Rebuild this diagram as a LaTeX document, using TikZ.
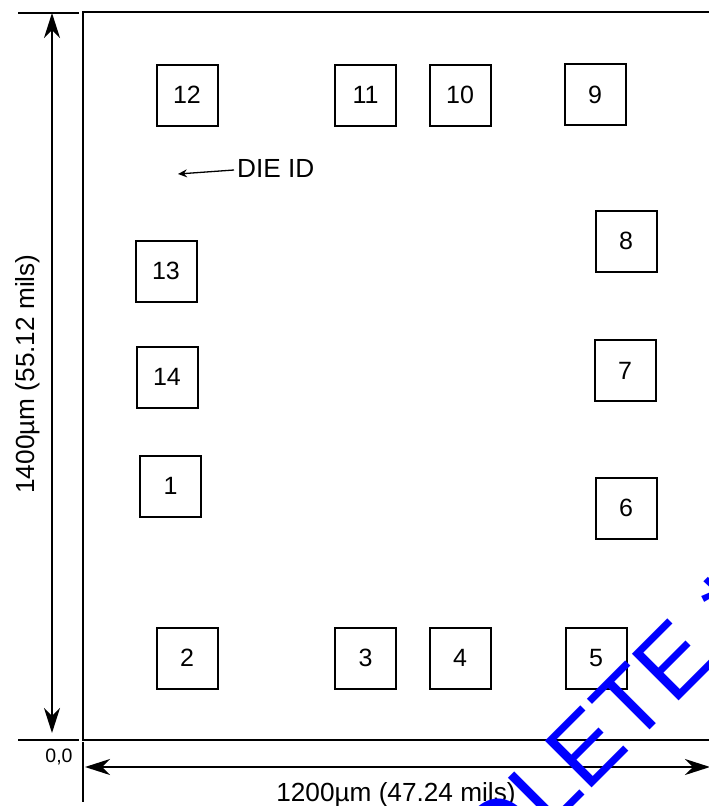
\documentclass[tikz,border=0pt]{standalone}
\usepackage{fontspec}
\setmainfont{Liberation Sans}
\usetikzlibrary{arrows.meta}
\tikzset{
  x=1pt,y=-1pt,
  pad/.style={draw=black,line width=2pt,minimum size=61pt,inner sep=0pt,font=\fontsize{25}{25}\selectfont},
  frameline/.style={line width=2pt,black},
  dimline/.style={line width=1.7pt,black,{Stealth[length=25pt,width=16pt,inset=8pt]}-{Stealth[length=25pt,width=16pt,inset=8pt]}},
  lab/.style={inner sep=0pt,font=\fontsize{26.2}{26}\selectfont},
  small/.style={inner sep=0pt,font=\fontsize{19.5}{20}\selectfont},
  wm/.style={inner sep=0pt,anchor=base west,rotate=45,text=blue,font=\fontsize{96}{96}\selectfont}
}
\begin{document}
\begin{tikzpicture}
\useasboundingbox (0,0) rectangle (709,806);
% frame
\coordinate (tl) at (82.5,12);
\coordinate (tr) at (709,12);
\coordinate (bl) at (82.5,739.5);
\coordinate (br) at (709,739.5);
\coordinate (lowtop) at (82.5,742);
\coordinate (lowbot) at (82.5,802);
\draw[frameline] (tr) -- (tl) -- (bl) -- (br);
\draw[frameline] (lowtop) -- (lowbot);
% extension ticks
\coordinate (t1) at (18,12.5);
\coordinate (t2) at (78.5,12.5);
\coordinate (b1) at (18,739.5);
\coordinate (b2) at (79,739.5);
\draw[frameline] (t1) -- (t2);
\draw[frameline] (b1) -- (b2);
% dimensions
\coordinate (vt) at (52,13);
\coordinate (vb) at (52,733);
\coordinate (hl) at (85,767);
\coordinate (hr) at (710,767);
\draw[dimline] (vt) -- (vb);
\draw[dimline] (hl) -- (hr);
\node[lab,rotate=90] (vlab) at (28,374) {1400µm (55.12 mils)};
\node[lab] (hlab) at (396,795) {1200µm (47.24 mils)};
\node[small] (orig) at (59,757) {0,0};
% pads
\node[pad] (p12) at (187,95) {12};
\node[pad] (p11) at (365.5,95) {11};
\node[pad] (p10) at (460,95) {10};
\node[pad] (p9) at (595,94.5) {9};
\node[pad] (p8) at (626,241) {8};
\node[pad] (p13) at (166,271) {13};
\node[pad] (p7) at (625,370.5) {7};
\node[pad] (p14) at (167,377) {14};
\node[pad] (p1) at (170.5,486) {1};
\node[pad] (p6) at (626,508) {6};
\node[pad] (p2) at (187,658) {2};
\node[pad] (p3) at (365.5,658) {3};
\node[pad] (p4) at (460,658) {4};
\node[pad] (p5) at (596,658) {5};
% die id
\node[lab,anchor=west] (die) at (237,168) {DIE ID};
\coordinate (dieend) at (178,174);
\draw[line width=1.3pt,-{Stealth[length=9pt,width=8pt,inset=3pt]}] (die.west) ++(-3,2) -- (dieend);
% watermark
\begin{scope}
\clip (0,0) rectangle (709,806);
\node[wm] (mark) at (352.7,1027.2) {OBSOLETE\kern30pt*};
\end{scope}
\end{tikzpicture}
\end{document}
